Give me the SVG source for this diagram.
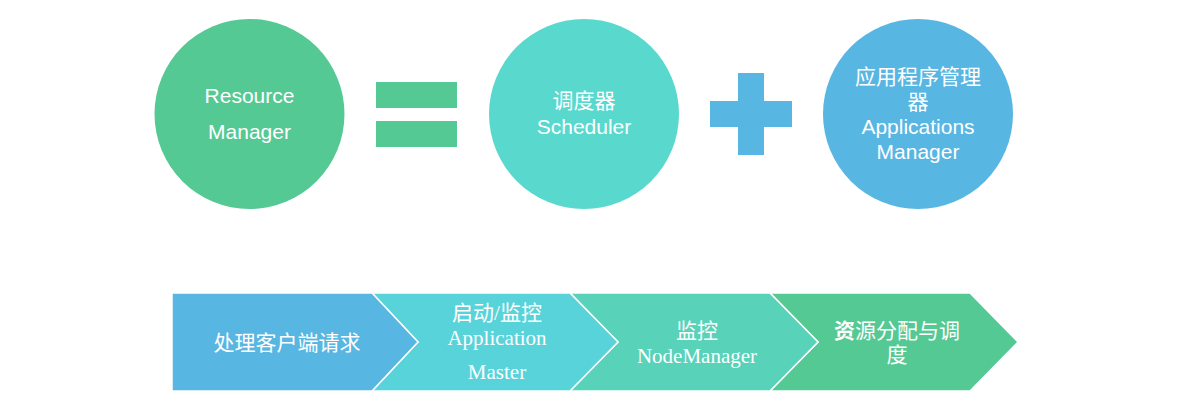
<svg xmlns="http://www.w3.org/2000/svg" width="1177" height="404" viewBox="0 0 1177 404">
<style>
.t{fill:#fff;font-family:"Liberation Sans","Noto Sans CJK SC",sans-serif;font-size:21px;text-anchor:middle}
.s{fill:#fff;font-family:"Liberation Serif","Noto Sans CJK SC",serif;font-size:21px;text-anchor:middle}
.c{stroke:#fff;stroke-width:1.5}
</style>
<rect width="1177" height="404" fill="#fff"/>
<g id="rm"><circle cx="249.5" cy="114" r="95" fill="#55C994"/>
<text class="t" x="249.5" y="103">Resource</text><text class="t" x="249.5" y="139">Manager</text></g>
<g id="equals" fill="#55C994"><rect x="376" y="82" width="81" height="26"/><rect x="376" y="121" width="81" height="26"/></g>
<g id="scheduler"><circle cx="584" cy="114" r="95" fill="#59D8CE"/>
<text class="t" x="584" y="108">调度器</text><text class="t" x="584" y="134">Scheduler</text></g>
<g id="plus" fill="#58B6E2"><rect x="738" y="73" width="26" height="82"/><rect x="710" y="101" width="82" height="26"/></g>
<g id="am"><circle cx="918" cy="114" r="95" fill="#58B6E2"/>
<text class="t" x="918" y="84">应用程序管理</text><text class="t" x="918" y="109">器</text><text class="t" x="918" y="134">Applications</text><text class="t" x="918" y="159">Manager</text></g>
<g id="flow">
<g id="step4"><polygon class="c" points="770,293 970,293 1018,342 970,391 770,391 818,342" fill="#55C994"/>
<text class="s" x="897" y="338"><tspan font-weight="bold">资</tspan>源分配与调</text><text class="s" x="897" y="362">度</text></g>
<g id="step3"><polygon class="c" points="570,293 770,293 818,342 770,391 570,391 618,342" fill="#58D2B9"/>
<text class="s" x="697" y="338">监控</text><text class="s" x="697" y="363">NodeManager</text></g>
<g id="step2"><polygon class="c" points="372,293 570,293 618,342 570,391 372,391 418,342" fill="#59D3DA"/>
<text class="s" x="497" y="320">启动/监控</text><text class="s" x="497" y="345">Application</text><text class="s" x="497" y="379">Master</text></g>
<g id="step1"><polygon class="c" points="172,293 372,293 418,342 372,391 172,391" fill="#58B6E2"/>
<text class="s" x="287" y="350">处理客户端请求</text></g>
</g>
</svg>
